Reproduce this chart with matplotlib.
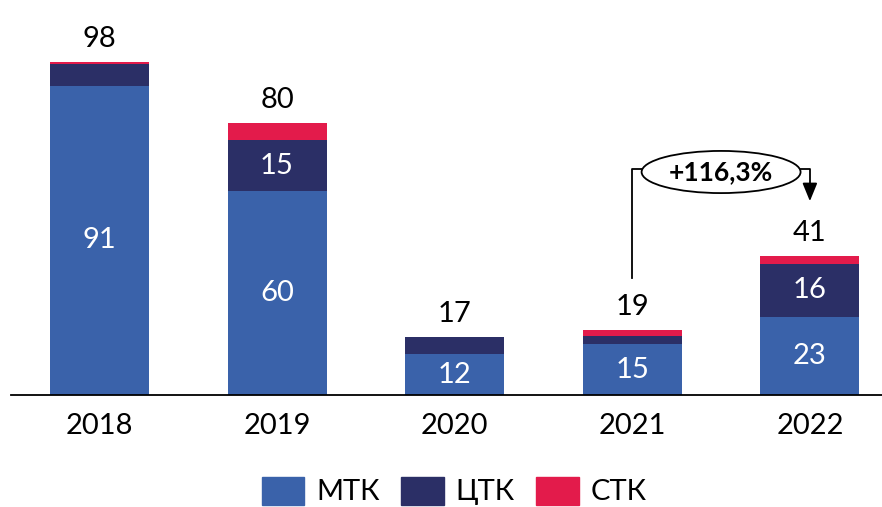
import numpy as np
import matplotlib.pyplot as plt
from matplotlib.patches import Ellipse, Patch

plt.rcParams['font.family'] = ['Lato', 'DejaVu Sans']

years = ['2018', '2019', '2020', '2021', '2022']
mtk = [91, 60, 12, 15, 23]
ctk = [6.5, 15, 5, 2.3, 15.6]
stk = [0.5, 5, 0, 1.7, 2.2]
totals = [98, 80, 17, 19, 41]
ctk_labels = ['', '15', '', '', '16']
growth = '+116,3%'

c_mtk = '#3A62AA'
c_ctk = '#2B2F66'
c_stk = '#E31B4B'

fs = 21

fig = plt.figure(figsize=(8.82, 5.07), dpi=100)
ax = fig.add_axes([11 / 882, 112 / 507, 871 / 882, 395 / 507])

x = np.arange(len(years))
w = 0.557
mtk = np.array(mtk)
ctk = np.array(ctk)
stk = np.array(stk)

ax.bar(x, mtk, w, color=c_mtk, label='МТК')
ax.bar(x, ctk, w, bottom=mtk, color=c_ctk, label='ЦТК')
ax.bar(x, stk, w, bottom=mtk + ctk, color=c_stk, label='СТК')

# подписи
for i in range(len(years)):
    ax.text(x[i], mtk[i] / 2, str(mtk[i]), ha='center', va='center',
            color='white', fontsize=fs)
    if ctk_labels[i]:
        ax.text(x[i], mtk[i] + ctk[i] / 2, ctk_labels[i], ha='center',
                va='center', color='white', fontsize=fs)
    ax.text(x[i], totals[i] + 6.8, str(totals[i]), ha='center', va='center',
            color='black', fontsize=fs)

# стрелка роста 2021 -> 2022
ey = 65.6
ax.add_patch(Ellipse((3.5, ey), 0.895, 12.4, facecolor='white',
                     edgecolor='black', linewidth=1.3, zorder=3))
ax.text(3.5, ey, growth, ha='center', va='center', fontsize=19,
        fontweight='bold', zorder=4)
ax.plot([x[3], x[3], 3.5 - 0.895 / 2], [totals[3] + 15.4, 66.5, 66.5],
        color='black', linewidth=1.3, zorder=2)
ax.plot([3.5 + 0.895 / 2, x[4], x[4]], [66.5, 66.5, 60],
        color='black', linewidth=1.3, zorder=2)
ax.annotate('', xy=(x[4], totals[4] + 15.2), xytext=(x[4], 61),
            arrowprops=dict(arrowstyle='-|>,head_width=0.45,head_length=1.1',
                            color='black', lw=1.3))

ax.set_xlim(-0.498, 4.406)
ax.set_ylim(0, 116.2)
ax.set_xticks(x)
ax.set_xticklabels(years, fontsize=fs)
ax.tick_params(axis='x', length=0, pad=13)
ax.set_yticks([])
for s in ['top', 'right', 'left']:
    ax.spines[s].set_visible(False)
ax.spines['bottom'].set_linewidth(1.3)

handles = [Patch(color=c_mtk), Patch(color=c_ctk), Patch(color=c_stk)]
fig.legend(handles, ['МТК', 'ЦТК', 'СТК'], loc='center',
           bbox_to_anchor=(0.515, 16 / 507), ncol=3, frameon=False, fontsize=fs,
           handlelength=1.45, handleheight=1.1, handletextpad=0.4,
           columnspacing=0.75)

fig.savefig('out.png', dpi=100)
